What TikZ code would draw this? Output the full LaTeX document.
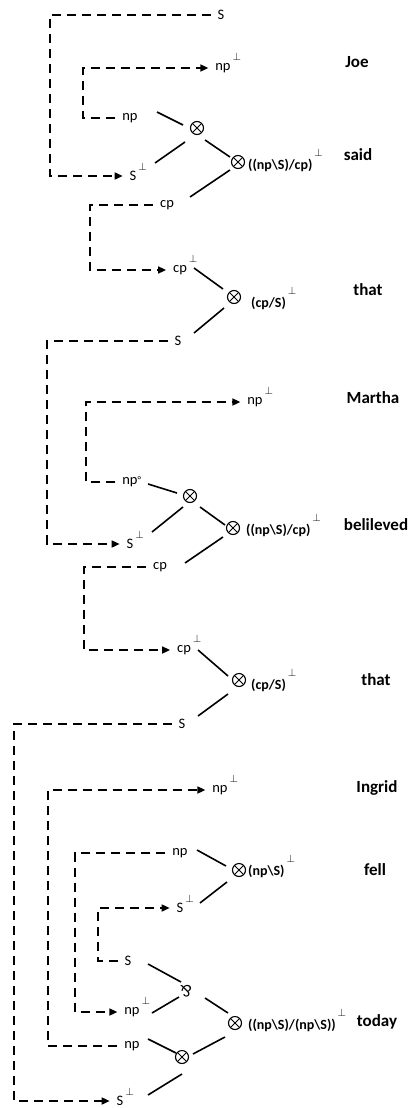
\documentclass[tikz,border=0pt]{standalone}
\usepackage{fontspec}
\setmainfont{Carlito}
\usepackage{graphicx}
\usetikzlibrary{arrows.meta}
\newcommand\perpsup[1][10pt]{\rlap{\smash{\hspace{2pt}\raisebox{#1}{\fontsize{10.5}{10.5}\selectfont$\perp$}}}}
\tikzset{
 lbl/.style={font=\fontsize{14.5}{16}\selectfont, inner sep=1pt, outer sep=6pt},
 typ/.style={font=\bfseries\fontsize{14}{15}\selectfont, inner sep=0pt, anchor=west},
 word/.style={font=\bfseries\fontsize{17}{20}\selectfont, inner sep=0pt},
 tens/.style={circle, draw, line width=1.1pt, minimum size=13pt, inner sep=0pt,
   path picture={\draw[line width=0.9pt] (path picture bounding box.north west) -- (path picture bounding box.south east)
     (path picture bounding box.north east) -- (path picture bounding box.south west);}},
 parnode/.style={font=\fontsize{17}{19}\selectfont, inner sep=0pt},
 dl/.style={line width=1.6pt, dash pattern=on 9pt off 6pt},
 dla/.style={dl, -{Triangle[length=8pt,width=7pt]}},
 sl/.style={line width=1.6pt},
}
\begin{document}
\begin{tikzpicture}[x=1pt,y=-1pt]
\useasboundingbox (0,0) rectangle (408,1108);
% corner x positions
\coordinate (k1) at (50,0);
\coordinate (k2) at (83,0);
\coordinate (k3) at (90,0);
\coordinate (k4) at (47,0);
\coordinate (k5) at (86,0);
\coordinate (k6) at (84,0);
\coordinate (k7) at (14,0);
\coordinate (k8) at (48,0);
\coordinate (k9) at (75,0);
\coordinate (k10) at (98,0);
% Joe / said
\node[lbl] (s1) at (221,15) {S};
\node[lbl] (np1) at (223,68) {np\perpsup};
\node[word] (joe) at (357,62) {Joe};
\node[lbl] (np2) at (130,118) {np};
\node[tens] (ot1) at (197,128) {};
\node[lbl] (sp1) at (133,176) {S\perpsup};
\node[tens] (ot2) at (238,162) {};
\node[typ] (lab1) at (248,165) {((np\textbackslash S)/cp)\perpsup[13pt]};
\node[word] (said) at (358,155) {said};
\node[lbl] (cp1) at (167,205) {cp};
% that
\node[lbl] (cpp1) at (180,270) {cp\perpsup};
\node[tens] (ot3) at (234,297) {};
\node[typ] (lab2) at (251,303) {(cp/S)\perpsup[13pt]};
\node[word] (that1) at (368,290) {that};
\node[lbl] (s2) at (178,341) {S};
% Martha / belileved
\node[lbl] (np3) at (255,402) {np\perpsup};
\node[word] (martha) at (373,398) {Martha};
\node[lbl] (np4) at (130,482) {np\rlap{\raisebox{1pt}{\fontsize{10}{10}\selectfont °}}};
\node[tens] (ot4) at (190,496) {};
\node[lbl] (sp2) at (130,544) {S\perpsup};
\node[tens] (ot5) at (233,528) {};
\node[typ] (lab3) at (246,530) {((np\textbackslash S)/cp)\perpsup[13pt]};
\node[word] (beli) at (376,525) {belileved};
\node[lbl] (cp2) at (160,567) {cp};
% that
\node[lbl] (cpp2) at (184,650) {cp\perpsup};
\node[tens] (ot6) at (239,680) {};
\node[typ] (lab4) at (251,685) {(cp/S)\perpsup[13pt]};
\node[word] (that2) at (376,680) {that};
\node[lbl] (s3) at (182,724) {S};
% Ingrid / fell / today
\node[lbl] (np5) at (220,790) {np\perpsup};
\node[word] (ingrid) at (377,788) {Ingrid};
\node[lbl] (np6) at (180,853) {np};
\node[tens] (ot7) at (239,870) {};
\node[typ] (lab5) at (248,871) {(np\textbackslash S)\perpsup[13pt]};
\node[word] (fell) at (375,870) {fell};
\node[lbl] (sp3) at (180,908) {S\perpsup};
\node[lbl] (s4) at (128,961) {S};
\node[parnode] (par) at (186,991) {\rotatebox{180}{\&}};
\node[lbl] (np8) at (132,1012) {np\perpsup};
\node[tens] (ot8) at (235,1023) {};
\node[typ] (lab6) at (248,1025) {((np\textbackslash S)/(np\textbackslash S))\perpsup[13pt]};
\node[word] (today) at (377,1022) {today};
\node[lbl] (np7) at (132,1046) {np};
\node[tens] (ot9) at (182,1057) {};
\node[lbl] (sp4) at (120,1101) {S\perpsup};
% dashed axiom links
\draw[dla] (s1.west) -- (s1.west -| k1) |- (sp1.west);
\draw[dla] (np2.west) -- (np2.west -| k2) |- (np1.west);
\draw[dla] (cp1.west) -- (cp1.west -| k3) |- (cpp1.west);
\draw[dla] (s2.west) -- (s2.west -| k4) |- (sp2.west);
\draw[dla] (np4.west) -- (np4.west -| k5) |- (np3.west);
\draw[dla] (cp2.west) -- (cp2.west -| k6) |- (cpp2.west);
\draw[dla] (s3.west) -- (s3.west -| k7) |- (sp4.west);
\draw[dla] (np7.west) -- (np7.west -| k8) |- (np5.west);
\draw[dla] (np6.west) -- (np6.west -| k9) |- (np8.west);
\draw[dla] (s4.west) -- (s4.west -| k10) |- (sp3.west);
% solid links
\draw[sl] ([shift={(27,-6)}]np2.center) -- ([shift={(-14,-3)}]ot1.center);
\draw[sl] ([shift={(22,-13)}]sp1.center) -- ([shift={(-12,14)}]ot1.center);
\draw[sl] ([shift={(8,12)}]ot1.center) -- ([shift={(-8,-5)}]ot2.center);
\draw[sl] ([shift={(-8,8)}]ot2.center) -- ([shift={(23,-8)}]cp1.center);
\draw[sl] ([shift={(14,-2)}]cpp1.center) -- ([shift={(-11,-8)}]ot3.center);
\draw[sl] ([shift={(-10,11)}]ot3.center) -- ([shift={(16,-8)}]s2.center);
\draw[sl] ([shift={(18,2)}]np4.center) -- ([shift={(-13,-3)}]ot4.center);
\draw[sl] ([shift={(22,-12)}]sp2.center) -- ([shift={(-7,11)}]ot4.center);
\draw[sl] ([shift={(10,11)}]ot4.center) -- ([shift={(-8,-3)}]ot5.center);
\draw[sl] ([shift={(-10,9)}]ot5.center) -- ([shift={(25,-4)}]cp2.center);
\draw[sl] ([shift={(14,0)}]cpp2.center) -- ([shift={(-11,-4)}]ot6.center);
\draw[sl] ([shift={(-11,14)}]ot6.center) -- ([shift={(16,-8)}]s3.center);
\draw[sl] ([shift={(17,-3)}]np6.center) -- ([shift={(-13,-4)}]ot7.center);
\draw[sl] ([shift={(20,-5)}]sp3.center) -- ([shift={(-12,12)}]ot7.center);
\draw[sl] ([shift={(20,3)}]s4.center) -- ([shift={(-5,-9)}]par.center);
\draw[sl] ([shift={(20,1)}]np8.center) -- ([shift={(-7,6)}]par.center);
\draw[sl] ([shift={(19,7)}]par.center) -- ([shift={(-7,-10)}]ot8.center);
\draw[sl] ([shift={(16,-7)}]np7.center) -- ([shift={(-6,-4)}]ot9.center);
\draw[sl] ([shift={(11,-3)}]ot9.center) -- ([shift={(-10,14)}]ot8.center);
\draw[sl] ([shift={(28,-6)}]sp4.center) -- ([shift={(0,17)}]ot9.center);
\end{tikzpicture}
\end{document}
